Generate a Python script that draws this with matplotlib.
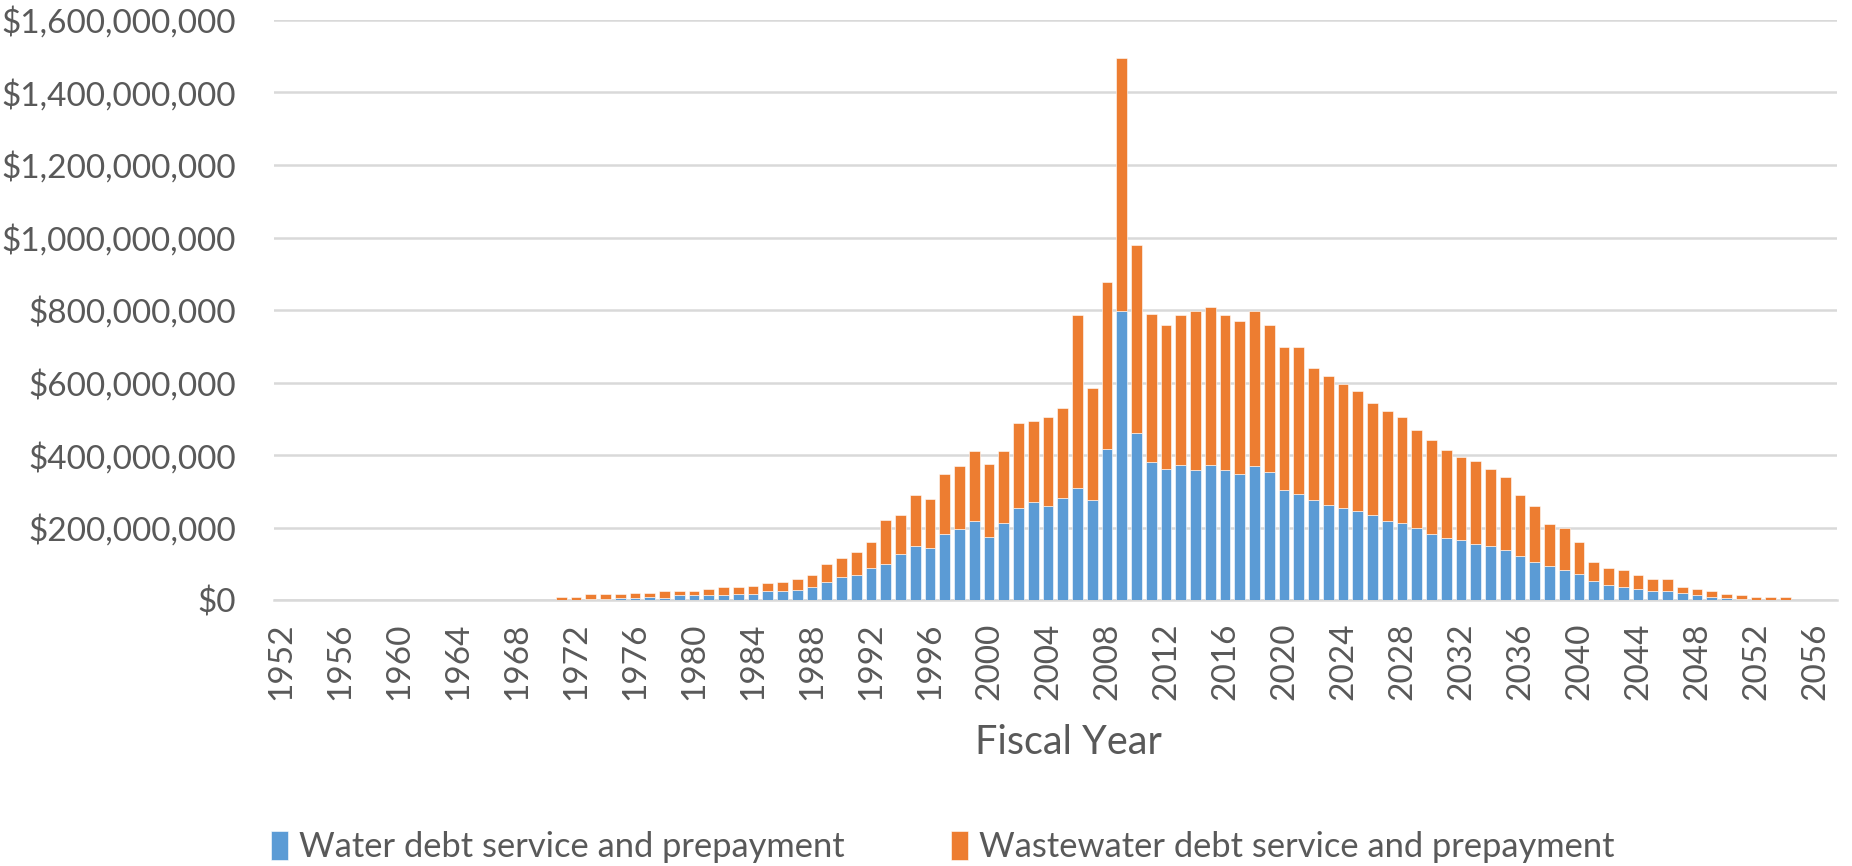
import matplotlib
matplotlib.use("Agg")
import matplotlib.pyplot as plt
from matplotlib.ticker import FuncFormatter, MultipleLocator

# Fiscal years shown on the category axis
axis_years = list(range(1952, 2058))
years = list(range(1971, 2055))

# Annual debt service and prepayment, millions of dollars
water = [1, 1, 2, 2, 5, 7, 8, 7, 14, 14,
         14, 14, 18, 18, 24, 24, 29, 35, 51, 63,
         68, 90, 99, 127, 149, 144, 182, 196, 217, 174,
         212, 255, 270, 260, 282, 310, 277, 418, 797, 462,
         380, 363, 374, 358, 374, 358, 348, 369, 353, 304,
         293, 277, 261, 255, 247, 236, 219, 214, 199, 183,
         172, 167, 156, 150, 139, 123, 106, 95, 84, 73,
         52, 41, 35, 30, 26, 26, 20, 15, 8, 7,
         2, 0, 0, 0]
wastewater = [8, 8, 14, 14, 11, 14, 13, 19, 12, 12,
              16, 22, 17, 22, 22, 27, 28, 33, 48, 53,
              65, 70, 122, 108, 141, 135, 167, 173, 195, 201,
              200, 233, 223, 244, 249, 475, 308, 460, 697, 518,
              410, 395, 411, 438, 433, 427, 421, 427, 405, 394,
              405, 362, 357, 341, 331, 309, 303, 292, 271, 259,
              243, 227, 227, 211, 200, 168, 153, 115, 115, 88,
              54, 49, 49, 39, 32, 32, 16, 15, 18, 9,
              13, 9, 9, 9]

series_names = ["Water debt service and prepayment",
                "Wastewater debt service and prepayment"]
tick_years = list(range(1952, 2057, 4))

BLUE = "#5B9BD5"
ORANGE = "#ED7D31"
TEXT = "#595959"
GRID = "#D9D9D9"
FONT = ["Lato", "DejaVu Sans"]

plt.rcParams["font.family"] = FONT

fig = plt.figure(figsize=(18.52, 8.66), dpi=100)
ax = fig.add_axes([0.1477, 0.307, 0.8443, 0.670])

water_d = [v * 1e6 for v in water]
waste_d = [v * 1e6 for v in wastewater]

b1 = ax.bar(years, water_d, width=0.72, color=BLUE, edgecolor="white",
            linewidth=0.4, label=series_names[0], zorder=3)
b2 = ax.bar(years, waste_d, bottom=water_d, width=0.72, color=ORANGE,
            edgecolor="white", linewidth=0.4, label=series_names[1], zorder=3)

ax.set_xlim(axis_years[0] - 0.5, axis_years[-1] + 0.5)
ax.set_ylim(0, 1.6e9)
ax.yaxis.set_major_locator(MultipleLocator(2e8))
ax.yaxis.set_major_formatter(FuncFormatter(lambda v, p: "${:,.0f}".format(v)))
ax.grid(axis="y", color=GRID, linewidth=1.8, zorder=0)
ax.set_axisbelow(True)

ax.set_xticks(tick_years)
ax.set_xticklabels([str(y) for y in tick_years], rotation=90)

for s in ["top", "right", "left"]:
    ax.spines[s].set_visible(False)
ax.spines["bottom"].set_color(GRID)
ax.spines["bottom"].set_linewidth(1.8)

ax.tick_params(axis="both", length=0, colors=TEXT, labelsize=24)
ax.tick_params(axis="y", pad=27)
ax.tick_params(axis="x", pad=16)

fig.text(0.577, 0.143, "Fiscal Year", ha="center", va="center",
         fontsize=28.5, color=TEXT)

leg = fig.legend(handles=[b1, b2], labels=series_names, loc="center",
                 bbox_to_anchor=(0.509, 0.022), ncol=2, frameon=False,
                 fontsize=24.8, handlelength=0.5, handleheight=0.95,
                 handletextpad=0.3, columnspacing=3.1)
for t in leg.get_texts():
    t.set_color(TEXT)

fig.savefig("out.png", dpi=100, facecolor="white")
